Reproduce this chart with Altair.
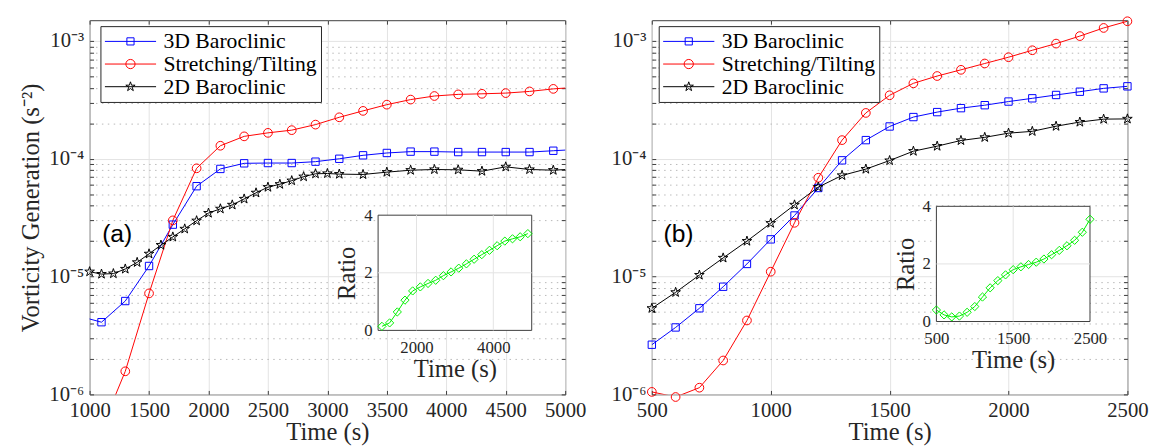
import altair as alt
import pandas as pd

SERIES = ["3D Baroclinic", "Stretching/Tilting", "2D Baroclinic"]
COLORS = ["#0000ff", "#ff0000", "#000000"]
RATIO_COLOR = "#00f000"

# ---------------- panel (a) ----------------
A_T_BLUE = [900, 1100, 1300, 1500, 1700, 1900, 2100, 2300, 2500, 2700, 2900,
            3100, 3300, 3500, 3700, 3900, 4100, 4300, 4500, 4700, 4900, 5100]
A_BLUE = [4.65e-6, 4.1e-6, 6.2e-6, 1.23e-5, 2.76e-5, 5.85e-5, 8.2e-5, 9.15e-5,
          9.2e-5, 9.2e-5, 9.45e-5, 1.0e-4, 1.07e-4, 1.12e-4, 1.15e-4, 1.15e-4,
          1.14e-4, 1.14e-4, 1.14e-4, 1.14e-4, 1.17e-4, 1.2e-4]
A_T_RED = [1100, 1300, 1500, 1700, 1900, 2100, 2300, 2500, 2700, 2900, 3100,
           3300, 3500, 3700, 3900, 4100, 4300, 4500, 4700, 4900, 5100]
A_RED = [5.1e-7, 1.57e-6, 7.2e-6, 3.0e-5, 8.3e-5, 1.29e-4, 1.55e-4, 1.66e-4,
         1.75e-4, 1.95e-4, 2.25e-4, 2.55e-4, 2.88e-4, 3.18e-4, 3.41e-4, 3.52e-4,
         3.56e-4, 3.61e-4, 3.73e-4, 3.92e-4, 4.05e-4]
A_T_BLACK = [1000, 1100, 1200, 1300, 1400, 1500, 1600, 1700, 1800, 1900, 2000,
             2100, 2200, 2300, 2400, 2500, 2600, 2700, 2800, 2900, 3000, 3100,
             3300, 3500, 3700, 3900, 4100, 4300, 4500, 4700, 4900, 5100]
A_BLACK = [1.1e-5, 1.05e-5, 1.06e-5, 1.16e-5, 1.32e-5, 1.56e-5, 1.85e-5, 2.17e-5,
           2.54e-5, 2.98e-5, 3.46e-5, 3.76e-5, 4.06e-5, 4.56e-5, 5.14e-5, 5.74e-5,
           6.08e-5, 6.52e-5, 7.05e-5, 7.46e-5, 7.5e-5, 7.41e-5, 7.36e-5, 7.7e-5,
           8.0e-5, 8.11e-5, 8.06e-5, 7.85e-5, 8.54e-5, 8.11e-5, 8.0e-5, 8.2e-5]
A_T_RATIO = [1100, 1300, 1500, 1700, 1900, 2100, 2300, 2500, 2700, 2900,
             3100, 3300, 3500, 3700, 3900, 4100, 4300, 4500, 4700, 4900]
A_RATIO = [0.14, 0.26, 0.64, 1.05, 1.37, 1.51, 1.63, 1.74, 1.90, 2.03,
           2.16, 2.31, 2.47, 2.63, 2.78, 2.94, 3.10, 3.18, 3.25, 3.36]

# ---------------- panel (b) ----------------
B_T = [500, 600, 700, 800, 900, 1000, 1100, 1200, 1300, 1400, 1500,
       1600, 1700, 1800, 1900, 2000, 2100, 2200, 2300, 2400, 2500]
B_BLUE = [2.64e-6, 3.7e-6, 5.38e-6, 8.2e-6, 1.28e-5, 2.07e-5, 3.3e-5, 5.65e-5,
          9.7e-5, 1.44e-4, 1.88e-4, 2.26e-4, 2.49e-4, 2.69e-4, 2.85e-4, 3.06e-4,
          3.26e-4, 3.48e-4, 3.71e-4, 3.96e-4, 4.12e-4]
B_RED = [1.05e-6, 9.5e-7, 1.14e-6, 1.94e-6, 4.24e-6, 1.1e-5, 2.86e-5, 6.9e-5,
         1.44e-4, 2.45e-4, 3.46e-4, 4.37e-4, 5.04e-4, 5.69e-4, 6.44e-4, 7.28e-4,
         8.34e-4, 9.5e-4, 1.1e-3, 1.29e-3, 1.47e-3]
B_BLACK = [5.38e-6, 7.35e-6, 1.03e-5, 1.44e-5, 2.0e-5, 2.84e-5, 4.06e-5, 5.75e-5,
           7.22e-5, 8.17e-5, 9.66e-5, 1.16e-4, 1.28e-4, 1.43e-4, 1.52e-4, 1.65e-4,
           1.71e-4, 1.89e-4, 2.05e-4, 2.17e-4, 2.18e-4]
B_RATIO = [0.40, 0.23, 0.16, 0.19, 0.32, 0.52, 0.85, 1.17, 1.42, 1.62, 1.80,
           1.90, 1.98, 2.06, 2.17, 2.32, 2.47, 2.63, 2.82, 3.10, 3.55]

# ---------------- axes / ticks ----------------
Y_DOMAIN = [1e-6, 1.5e-3]
Y_DECADES = [1e-6, 1e-5, 1e-4, 1e-3]
Y_DECADE_LABELS = ["10⁻⁶", "10⁻⁵", "10⁻⁴", "10⁻³"]
Y_TICKS = [m * d for d in Y_DECADES[:-1] for m in range(1, 10)] + [1e-3]
A_XDOM = [1000, 5000]
A_XTICKS = [1000, 1500, 2000, 2500, 3000, 3500, 4000, 4500, 5000]
B_XDOM = [500, 2500]
B_XTICKS = [500, 1000, 1500, 2000, 2500]
A_INSET_XDOM = [1000, 5000]
A_INSET_XTICKS = [2000, 4000]
B_INSET_XDOM = [500, 2500]
B_INSET_XTICKS = [500, 1500, 2500]
INSET_YDOM = [0, 4]
INSET_YTICKS = [0, 2, 4]

W, H = 483, 380
SERIF = "Liberation Serif"
FRAME = "#3c3c3c"
GRID_MAJOR = "#e3e3e3"
GRID_MINOR = "#b8b8b8"
TXT = "#262626"

STAR = ("M0,-1L0.225,-0.309L0.951,-0.309L0.363,0.118L0.588,0.809L0,0.382"
        "L-0.588,0.809L-0.363,0.118L-0.951,-0.309L-0.225,-0.309Z")
MARKERS = [("square", 56), ("circle", 78), (STAR, 105)]
LEGEND_PATHS = [
    "M-1,0H1M-0.14,-0.14H0.14V0.14H-0.14Z",
    "M-1,0H1M0.18,0A0.18,0.18,0,1,1,-0.18,0A0.18,0.18,0,1,1,0.18,0Z",
    "M-1,0H1M0,-0.19L0.043,-0.059L0.181,-0.059L0.069,0.022L0.112,0.154L0,0.073"
    "L-0.112,0.154L-0.069,0.022L-0.181,-0.059L-0.043,-0.059Z",
]

label_expr = " : ".join(
    f"abs(datum.value - {d!r}) < {d * 1e-6!r} ? '{lab}'"
    for d, lab in zip(Y_DECADES, Y_DECADE_LABELS)
) + " : ''"
decade_test = "abs(log(datum.value)/LN10 - round(log(datum.value)/LN10)) < 0.001"


def long_df(ts_list, vs_list):
    rows = []
    for s, ts, vs in zip(SERIES, ts_list, vs_list):
        for t, v in zip(ts, vs):
            rows.append({"t": t, "v": v, "s": s})
    return pd.DataFrame(rows)


def panel(df, ratio_t, ratio_v, xdom, xticks, inset_xdom, inset_xticks,
          inset_xr, inset_yr, label, label_t, legend_x, show_ytitle):
    def xs():
        return alt.Scale(domain=xdom, nice=False, zero=False)

    def ys():
        return alt.Scale(type="log", domain=Y_DOMAIN, nice=False)

    x_main = alt.Axis(orient="bottom", values=xticks, grid=True, gridColor=GRID_MAJOR,
                      gridWidth=1, domain=False, ticks=False, labelFont=SERIF,
                      labelFontSize=21, labelColor=TXT, labelPadding=5, labelFlush=False,
                      labelOverlap=False, format="d", title="Time (s)", titleFont=SERIF,
                      titleFontSize=25, titleFontWeight="normal", titleColor=TXT,
                      titlePadding=0)
    y_main = alt.Axis(orient="left", values=Y_TICKS, grid=True,
                      gridColor={"condition": {"test": decade_test, "value": GRID_MAJOR},
                                 "value": GRID_MINOR},
                      gridDash={"condition": {"test": decade_test, "value": []},
                                "value": [1.5, 4.5]},
                      gridWidth=1, domain=False, ticks=False, labelExpr=label_expr,
                      labelFont=SERIF, labelFontSize=21, labelColor=TXT, labelPadding=6,
                      labelFlush=False, labelOverlap=False,
                      title="Vorticity Generation (s⁻²)" if show_ytitle else None,
                      titleFont=SERIF, titleFontSize=25, titleFontWeight="normal",
                      titleColor=TXT, titlePadding=6)

    def tick_axis(orient, values):
        return alt.Axis(orient=orient, offset=-4, values=values, tickSize=4,
                        tickColor=FRAME, labels=False, domain=False, grid=False,
                        title=None)

    layers = []
    # lines, one layer per series (fixed colours)
    line_axes = [(x_main, y_main), (None, None), (None, None)]
    for s, col, (ax, ay) in zip(SERIES, COLORS, line_axes):
        layers.append(
            alt.Chart(df).mark_line(clip=True, strokeWidth=1, color=col)
            .encode(x=alt.X("t:Q", scale=xs(), axis=ax),
                    y=alt.Y("v:Q", scale=ys(), axis=ay))
            .transform_filter(alt.datum.s == s)
        )

    dom_filter = f"datum.t >= {xdom[0]} && datum.t <= {xdom[1]} && datum.v >= 9e-7"
    marker_axes = [
        (tick_axis("bottom", xticks), tick_axis("left", Y_TICKS)),
        (tick_axis("top", xticks), tick_axis("right", Y_TICKS)),
        (None, None),
    ]
    for s, col, (shape, size), (ax, ay) in zip(SERIES, COLORS, MARKERS, marker_axes):
        layers.append(
            alt.Chart(df).mark_point(shape=shape, size=size, color=col, filled=False,
                                     strokeWidth=1, opacity=1)
            .encode(x=alt.X("t:Q", scale=xs(), axis=ax),
                    y=alt.Y("v:Q", scale=ys(), axis=ay))
            .transform_filter(alt.datum.s == s)
            .transform_filter(dom_filter)
        )

    # legend (from the colour / shape scales only; the layer draws nothing)
    leg = alt.Legend(orient="none", legendX=legend_x, legendY=6, title=None,
                     fillColor="white", strokeColor=TXT, padding=4, cornerRadius=0,
                     labelFont=SERIF, labelFontSize=22, labelColor="black",
                     labelOffset=7, labelLimit=400, symbolSize=2704,
                     symbolStrokeWidth=1, clipHeight=23, rowPadding=0)
    layers.append(
        alt.Chart(df).mark_point(filled=False, opacity=1, strokeWidth=1).encode(
            x=alt.X("t:Q", scale=xs(), axis=None),
            y=alt.Y("v:Q", scale=ys(), axis=None),
            color=alt.Color("s:N", scale=alt.Scale(domain=SERIES, range=COLORS), legend=leg),
            shape=alt.Shape("s:N", scale=alt.Scale(domain=SERIES, range=LEGEND_PATHS),
                            legend=leg),
        ).transform_filter("false")
    )

    lab_df = pd.DataFrame({"t": [label_t], "v": [2.3e-5], "txt": [label]})
    layers.append(alt.Chart(lab_df).mark_text(font="Liberation Sans", fontSize=25,
                                              color="black").encode(
        x=alt.X("t:Q", scale=xs(), axis=None),
        y=alt.Y("v:Q", scale=ys(), axis=None),
        text="txt:N",
    ))

    # ---------- inset ----------
    def ixs():
        return alt.Scale(domain=inset_xdom, range=inset_xr, nice=False, zero=False)

    def iys():
        return alt.Scale(domain=INSET_YDOM, range=inset_yr, nice=False, zero=False)

    ix_axis = alt.Axis(orient="bottom", offset=-(H - inset_yr[0]), values=inset_xticks,
                       grid=False, domain=False, ticks=False, labelFont=SERIF,
                       labelFontSize=17, labelColor=TXT, labelPadding=9, labelFlush=False,
                       labelOverlap=False, format="d", title="Time (s)", titleFont=SERIF,
                       titleFontSize=25, titleFontWeight="normal", titleColor=TXT,
                       titlePadding=2, zindex=1)
    iy_axis = alt.Axis(orient="left", offset=-inset_xr[0], values=INSET_YTICKS,
                       grid=False, domain=False, ticks=False, labelFont=SERIF,
                       labelFontSize=17, labelColor=TXT, labelPadding=6, labelFlush=False,
                       labelOverlap=False, title="Ratio", titleFont=SERIF,
                       titleFontSize=25, titleFontWeight="normal", titleColor=TXT,
                       titlePadding=4, zindex=1)
    box_df = pd.DataFrame({"x0": [inset_xdom[0]], "x1": [inset_xdom[1]],
                           "y0": [INSET_YDOM[0]], "y1": [INSET_YDOM[1]]})
    layers.append(alt.Chart(box_df).mark_rect(fill="white", stroke=FRAME, strokeWidth=1).encode(
        x=alt.X("x0:Q", scale=ixs(), axis=ix_axis), x2="x1:Q",
        y=alt.Y("y0:Q", scale=iys(), axis=iy_axis), y2="y1:Q",
    ))
    vgrid_df = pd.DataFrame({"gx": [v for v in inset_xticks if inset_xdom[0] < v < inset_xdom[1]]})
    vgrid_df["y0"] = INSET_YDOM[0]
    vgrid_df["y1"] = INSET_YDOM[1]
    layers.append(alt.Chart(vgrid_df).mark_rule(color=GRID_MAJOR, strokeWidth=1).encode(
        x=alt.X("gx:Q", scale=ixs(), axis=None),
        y=alt.Y("y0:Q", scale=iys(), axis=None), y2="y1:Q",
    ))
    hgrid_df = pd.DataFrame({"gy": [v for v in INSET_YTICKS if INSET_YDOM[0] < v < INSET_YDOM[1]]})
    hgrid_df["x0"] = inset_xdom[0]
    hgrid_df["x1"] = inset_xdom[1]
    layers.append(alt.Chart(hgrid_df).mark_rule(color=GRID_MAJOR, strokeWidth=1).encode(
        y=alt.Y("gy:Q", scale=iys(), axis=None),
        x=alt.X("x0:Q", scale=ixs(), axis=None), x2="x1:Q",
    ))
    rdf = pd.DataFrame({"t": ratio_t, "r": ratio_v})
    layers.append(alt.Chart(rdf).mark_line(color=RATIO_COLOR, strokeWidth=1).encode(
        x=alt.X("t:Q", scale=ixs(), axis=None), y=alt.Y("r:Q", scale=iys(), axis=None)))
    layers.append(alt.Chart(rdf).mark_point(shape="diamond", size=70, color=RATIO_COLOR,
                                            filled=False, strokeWidth=1, opacity=1).encode(
        x=alt.X("t:Q", scale=ixs(), axis=None), y=alt.Y("r:Q", scale=iys(), axis=None)))

    return alt.layer(*layers).resolve_scale(
        x="independent", y="independent").properties(width=W, height=H)


df_a = long_df([A_T_BLUE, A_T_RED, A_T_BLACK], [A_BLUE, A_RED, A_BLACK])
df_b = long_df([B_T, B_T, B_T], [B_BLUE, B_RED, B_BLACK])

pa = panel(df_a, A_T_RATIO, A_RATIO, A_XDOM, A_XTICKS, A_INSET_XDOM, A_INSET_XTICKS,
           [293, 449], [315, 198], "(a)", 1232, 11, True)
pb = panel(df_b, B_T, B_RATIO, B_XDOM, B_XTICKS, B_INSET_XDOM, B_INSET_XTICKS,
           [289, 445], [306, 189], "(b)", 612, 7, False)

chart = alt.hconcat(pa, pb, spacing=24).resolve_scale(
    color="independent", shape="independent"
).configure_view(stroke=FRAME, strokeWidth=1).properties(
    padding={"left": 18, "top": 11, "right": 5, "bottom": 5}, background="white"
)

chart.save("out.html", embed_options={"renderer": "svg", "actions": False})
